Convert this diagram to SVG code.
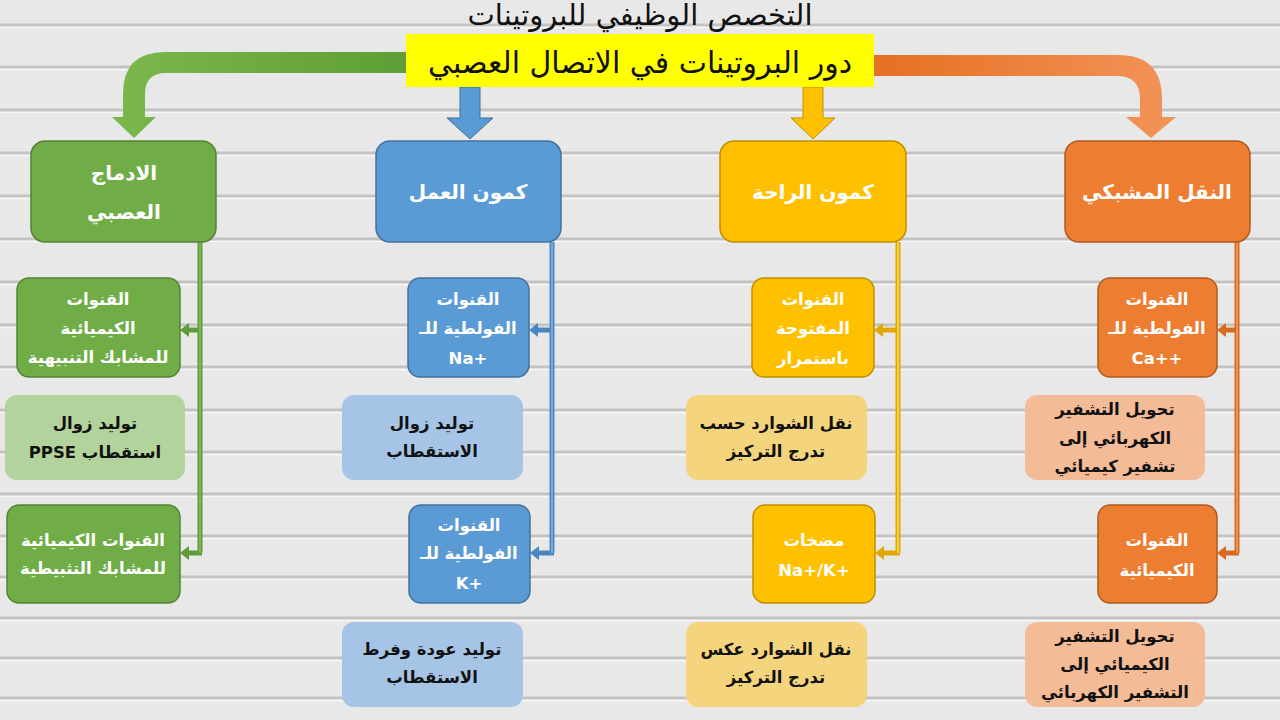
<svg xmlns="http://www.w3.org/2000/svg" width="1280" height="720" viewBox="0 0 1280 720">
<defs>
<linearGradient id="gG" x1="0" y1="0" x2="1" y2="0">
<stop offset="0" stop-color="#7bb84c"/><stop offset="1" stop-color="#5f9d36"/>
</linearGradient>
<linearGradient id="gO" x1="0" y1="0" x2="1" y2="0">
<stop offset="0" stop-color="#e66f22"/><stop offset="1" stop-color="#f29458"/>
</linearGradient>
<marker id="mG" markerUnits="userSpaceOnUse" markerWidth="10" markerHeight="14" refX="0" refY="7" orient="auto"><path d="M0 0 L9 7 L0 14 Z" fill="#5e9c37"/></marker>
<marker id="mB" markerUnits="userSpaceOnUse" markerWidth="10" markerHeight="14" refX="0" refY="7" orient="auto"><path d="M0 0 L9 7 L0 14 Z" fill="#4a86c0"/></marker>
<marker id="mY" markerUnits="userSpaceOnUse" markerWidth="10" markerHeight="14" refX="0" refY="7" orient="auto"><path d="M0 0 L9 7 L0 14 Z" fill="#e0a800"/></marker>
<marker id="mO" markerUnits="userSpaceOnUse" markerWidth="10" markerHeight="14" refX="0" refY="7" orient="auto"><path d="M0 0 L9 7 L0 14 Z" fill="#d9691f"/></marker>
</defs>
<style>
text{font-family:"DejaVu Sans","Noto Sans",sans-serif;text-anchor:middle;direction:rtl}
.w{fill:#ffffff;font-weight:bold;font-size:16.5px}
.k{fill:#111111;font-weight:bold;font-size:16.5px}
.h{fill:#ffffff;font-weight:bold;font-size:20px}
.l{direction:ltr}
.gr{fill:#70ad47;stroke:#548235;stroke-width:1.5}
.bl{fill:#5b9bd5;stroke:#41719c;stroke-width:1.5}
.ye{fill:#ffc000;stroke:#bf9000;stroke-width:1.5}
.or{fill:#ed7d31;stroke:#ae5a21;stroke-width:1.5}
.lg{fill:#b3d39c}
.lb{fill:#a6c5e6}
.ly{fill:#f4d57e}
.lo{fill:#f3bb96}
.cg{fill:none;stroke:#5e9c37;stroke-width:5}
.cb{fill:none;stroke:#4a86c0;stroke-width:5}
.cy{fill:none;stroke:#e0a800;stroke-width:5}
.co{fill:none;stroke:#d9691f;stroke-width:5}
.ci{fill:none;stroke-width:1.5}
</style>
<rect width="1280" height="720" fill="#e8e8e8"/>
<path d="M0 25H1280M0 67H1280M0 110H1280M0 153H1280M0 196H1280M0 239H1280M0 282H1280M0 325H1280M0 367H1280M0 410H1280M0 452H1280M0 494H1280M0 536H1280M0 577H1280M0 618H1280M0 658H1280M0 698H1280" stroke="#c3c3c3" stroke-width="3"/>
<path d="M0 27.5H1280M0 69.5H1280M0 112.5H1280M0 155.5H1280M0 198.5H1280M0 241.5H1280M0 284.5H1280M0 327.5H1280M0 369.5H1280M0 412.5H1280M0 454.5H1280M0 496.5H1280M0 538.5H1280M0 579.5H1280M0 620.5H1280M0 660.5H1280M0 700.5H1280" stroke="#f7f7f7" stroke-width="1.5"/>

<g id="title">
<text x="640" y="25" style="font-size:29px;font-weight:normal;fill:#111">التخصص الوظيفي للبروتينات</text>
</g>

<g id="arrows">
<path d="M410 52 L165 52 Q123 52 123 94 L123 117 L112 117 L134 138 L156 117 L145 117 L145 94 Q145 73 166 73 L410 73 Z" fill="url(#gG)"/>
<path d="M870 55 L1118 55 Q1162 55 1162 99 L1162 117 L1176 117 L1151 138 L1126 117 L1140 117 L1140 99 Q1140 76 1117 76 L870 76 Z" fill="url(#gO)"/>
<path d="M460 87 L480 87 L480 118 L493 118 L470 139 L447 118 L460 118 Z" fill="#5b9bd5" stroke="#41719c" stroke-width="1"/>
<path d="M803 87 L823 87 L823 118 L835 118 L813 139 L791 118 L803 118 Z" fill="#ffc000" stroke="#bf9000" stroke-width="1"/>
</g>

<g id="root">
<rect x="406" y="34" width="468" height="53" fill="#ffff00"/>
<text x="640" y="73" style="font-size:30px;font-weight:normal;fill:#111">دور البروتينات في الاتصال العصبي</text>
</g>

<g id="connectors">
<path class="cg" d="M200 242V553"/>
<path class="cg" d="M202 330H189" marker-end="url(#mG)"/>
<path class="cg" d="M202 553H189" marker-end="url(#mG)"/>
<path class="ci" stroke="#8cc063" d="M200 242V553"/>
<path class="cb" d="M552 242V553"/>
<path class="cb" d="M554 330H538" marker-end="url(#mB)"/>
<path class="cb" d="M554 553H539" marker-end="url(#mB)"/>
<path class="ci" stroke="#8ab6e2" d="M552 242V553"/>
<path class="cy" d="M898 242V553"/>
<path class="cy" d="M900 330H883" marker-end="url(#mY)"/>
<path class="cy" d="M900 553H884" marker-end="url(#mY)"/>
<path class="ci" stroke="#ffd75a" d="M898 242V553"/>
<path class="co" d="M1237 242V553"/>
<path class="co" d="M1239 330H1226" marker-end="url(#mO)"/>
<path class="co" d="M1239 553H1226" marker-end="url(#mO)"/>
<path class="ci" stroke="#f4a06a" d="M1237 242V553"/>
</g>

<g id="n-green">
<rect class="gr" x="31" y="141" width="185" height="101" rx="14"/>
<text class="h" x="124" y="180">الادماج</text>
<text class="h" x="124" y="219">العصبي</text>
</g>
<g id="n-blue">
<rect class="bl" x="376" y="141" width="185" height="101" rx="14"/>
<text class="h" x="468" y="199">كمون العمل</text>
</g>
<g id="n-yellow">
<rect class="ye" x="720" y="141" width="186" height="101" rx="14"/>
<text class="h" x="813" y="199">كمون الراحة</text>
</g>
<g id="n-orange">
<rect class="or" x="1065" y="141" width="185" height="101" rx="14"/>
<text class="h" x="1157" y="199">النقل المشبكي</text>
</g>

<g id="g1">
<rect class="gr" x="17" y="278" width="163" height="99" rx="12"/>
<text class="w" x="98" y="305">القنوات</text>
<text class="w" x="98" y="334">الكيميائية</text>
<text class="w" x="98" y="363">للمشابك التنبيهية</text>
</g>
<g id="g2">
<rect class="lg" x="5" y="395" width="180" height="85" rx="12"/>
<text class="k" x="95" y="429">توليد زوال</text>
<text class="k" x="95" y="458">استقطاب  PPSE</text>
</g>
<g id="g3">
<rect class="gr" x="7" y="505" width="173" height="98" rx="12"/>
<text class="w" x="93" y="546">القنوات الكيميائية</text>
<text class="w" x="93" y="574">للمشابك التثبيطية</text>
</g>

<g id="b1">
<rect class="bl" x="408" y="278" width="121" height="99" rx="12"/>
<text class="w" x="468" y="305">القنوات</text>
<text class="w" x="468" y="334">الفولطية للـ</text>
<text class="w l" x="468" y="364">Na+</text>
</g>
<g id="b2">
<rect class="lb" x="342" y="395" width="181" height="85" rx="12"/>
<text class="k" x="432" y="429">توليد زوال</text>
<text class="k" x="432" y="457">الاستقطاب</text>
</g>
<g id="b3">
<rect class="bl" x="409" y="505" width="121" height="98" rx="12"/>
<text class="w" x="469" y="531">القنوات</text>
<text class="w" x="469" y="559">الفولطية للـ</text>
<text class="w l" x="469" y="589">K+</text>
</g>
<g id="b4">
<rect class="lb" x="342" y="622" width="181" height="85" rx="12"/>
<text class="k" x="432" y="655">توليد عودة وفرط</text>
<text class="k" x="432" y="683">الاستقطاب</text>
</g>

<g id="y1">
<rect class="ye" x="752" y="278" width="122" height="99" rx="12"/>
<text class="w" x="813" y="305">القنوات</text>
<text class="w" x="813" y="334">المفتوحة</text>
<text class="w" x="813" y="364">باستمرار</text>
</g>
<g id="y2">
<rect class="ly" x="686" y="395" width="181" height="85" rx="12"/>
<text class="k" x="776" y="429">نقل الشوارد حسب</text>
<text class="k" x="776" y="457">تدرج التركيز</text>
</g>
<g id="y3">
<rect class="ye" x="753" y="505" width="122" height="98" rx="12"/>
<text class="w" x="814" y="546">مضخات</text>
<text class="w l" x="814" y="576">Na+/K+</text>
</g>
<g id="y4">
<rect class="ly" x="686" y="622" width="181" height="85" rx="12"/>
<text class="k" x="776" y="655">نقل الشوارد عكس</text>
<text class="k" x="776" y="683">تدرج التركيز</text>
</g>

<g id="o1">
<rect class="or" x="1098" y="278" width="119" height="99" rx="12"/>
<text class="w" x="1157" y="305">القنوات</text>
<text class="w" x="1157" y="334">الفولطية للـ</text>
<text class="w l" x="1157" y="364">Ca++</text>
</g>
<g id="o2">
<rect class="lo" x="1025" y="395" width="180" height="85" rx="12"/>
<text class="k" x="1115" y="415">تحويل التشفير</text>
<text class="k" x="1115" y="444">الكهربائي إلى</text>
<text class="k" x="1115" y="472">تشفير كيميائي</text>
</g>
<g id="o3">
<rect class="or" x="1098" y="505" width="119" height="98" rx="12"/>
<text class="w" x="1157" y="546">القنوات</text>
<text class="w" x="1157" y="576">الكيميائية</text>
</g>
<g id="o4">
<rect class="lo" x="1025" y="622" width="180" height="85" rx="12"/>
<text class="k" x="1115" y="642">تحويل التشفير</text>
<text class="k" x="1115" y="670">الكيميائي إلى</text>
<text class="k" x="1115" y="698">التشفير الكهربائي</text>
</g>
</svg>
